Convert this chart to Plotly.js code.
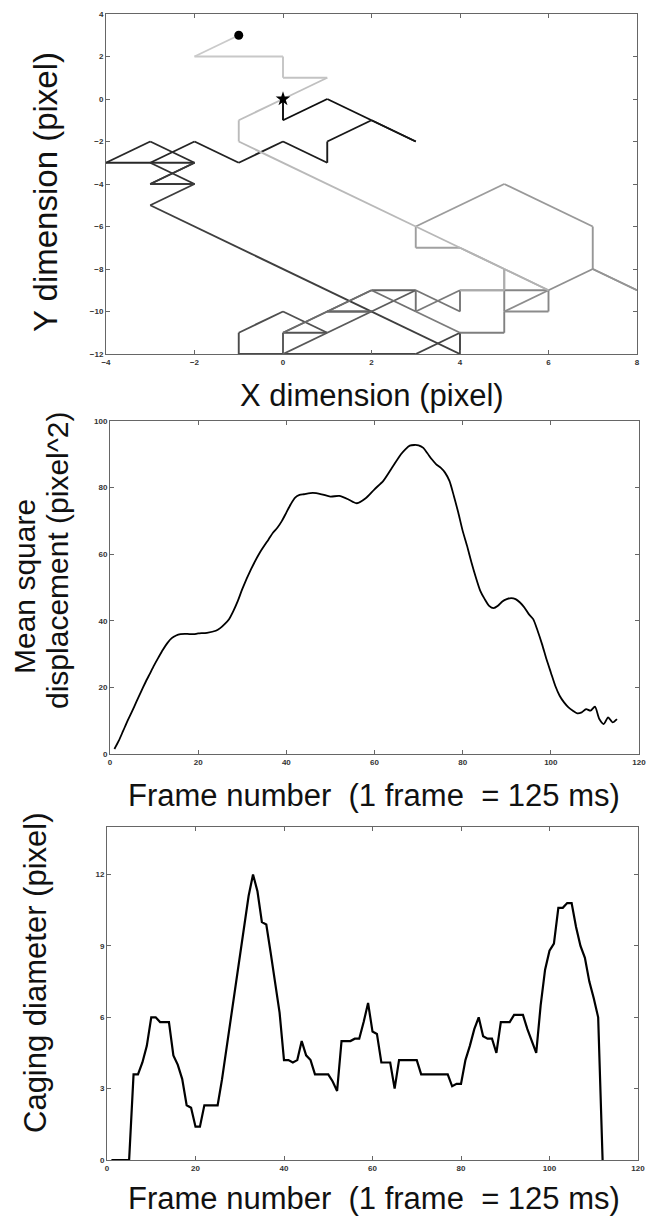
<!DOCTYPE html>
<html>
<head>
<meta charset="utf-8">
<script src="https://cdn.plot.ly/plotly-3.0.1.min.js"></script>
<style>
  html, body { margin: 0; padding: 0; background: #ffffff; }
  #chart { width: 647px; height: 1220px; }
</style>
</head>
<body>
<div id="chart"></div>
<script>
// ---------- Panel 1: particle trajectory (pixel coordinates, in time order) ----------
const trajX = [0, 0, 1, 2, 3, 2, 1, 1, 0, -1, -2, -3, -4, -3, -2, -3, -2, -3, -2, -3, -2, -3,
  4, 4, 3, 0, -1, -1, 0, 1, 0, 0, 1, 2, 3, 2, 1, 2, 1, 0, 1, 2, 3, 3, 4, 4, 3, 4, 5, 5, 5, 6,
  6, 5, 6, 7, 8, 7, 7, 5, 3, 3, 4, 5, 5, 4, 5, 5, 6, 5, 4, 3,
  -1, -1, 0, 1, 0, 0, -2, -1];
const trajY = [0, -1, 0, -1, -2, -1, -2, -3, -2, -3, -2, -3, -3, -2, -3, -3, -4, -4, -3, -4, -4, -5,
  -12, -11, -12, -12, -12, -11, -10, -11, -11, -12, -11, -10, -9, -9, -10, -10, -10, -11, -10, -9, -10, -9, -10, -9, -10, -11, -11, -10, -9, -9,
  -10, -10, -9, -8, -9, -8, -6, -4, -6, -7, -7, -8, -9, -9, -9, -8, -9, -8, -7, -6,
  -2, -1, 0, 1, 1, 2, 2, 3];
const xTicks1 = [-4, -2, 0, 2, 4, 6, 8];
const yTicks1 = [-12, -10, -8, -6, -4, -2, 0, 2, 4];

// ---------- Panel 2: mean square displacement ----------
const msdFrames = [1, 2, 3, 4, 5, 6, 7, 8, 9, 10, 11, 12, 13, 14, 15, 16, 17, 18, 19, 20,
  22, 24, 25, 26, 27, 28, 29, 30, 32, 34, 36, 37, 38, 39, 40, 41, 42, 43, 44, 46, 48, 50,
  52, 54, 55, 56, 58, 60, 62, 64, 66, 67, 68, 69, 70, 71, 72, 73, 74, 75, 76, 77, 78, 79,
  80, 81, 82, 83, 84, 85, 86, 87, 88, 89, 90, 91, 92, 93, 94, 95, 96, 97, 98, 99, 100,
  101, 102, 103, 104, 105, 106, 107, 108, 109, 110, 111, 112, 113, 114, 115];
const msdValues = [1.5, 4, 7, 10, 12.8, 15.7, 18.6, 21.4, 24, 26.6, 29, 31.3, 33.3, 34.8, 35.6, 36, 36.1, 36, 36, 36.2,
  36.4, 37, 37.8, 39, 40.5, 43, 46, 49.5, 55.5, 60.5, 64.5, 66.5, 68, 70, 72.5, 75, 77, 77.8, 78, 78.4, 78, 77.3,
  77.5, 76.5, 75.8, 75.3, 76.8, 79.5, 82, 86, 90, 91.5, 92.6, 92.8, 92.7, 92, 90.3, 88.5, 87, 86, 84.5, 82, 77.5, 72.5,
  67, 62.5, 57.5, 53, 49, 46.5, 44.5, 43.8, 44.5, 45.8, 46.5, 46.8, 46.5, 45.5, 44, 42, 40.5, 37, 33, 28.5, 24.5,
  20.5, 17.5, 15.5, 14, 13, 12.2, 12.5, 13.5, 13, 14.2, 10.5, 9, 11, 9.5, 10.5];
const frameTicks = [0, 20, 40, 60, 80, 100, 120];
const msdTicks = [0, 20, 40, 60, 80, 100];

// ---------- Panel 3: caging diameter ----------
const cageFrames = [1, 2, 3, 4, 5, 6, 7, 8, 9, 10, 11, 12, 13, 14, 15, 16, 17, 18, 19, 20,
  21, 22, 23, 24, 25, 26, 27, 28, 29, 30, 31, 32, 33, 34, 35, 36, 37, 38, 39, 40,
  41, 42, 43, 44, 45, 46, 47, 48, 49, 50, 51, 52, 53, 54, 55, 56, 57, 58, 59, 60,
  61, 62, 63, 64, 65, 66, 67, 68, 69, 70, 71, 72, 73, 74, 75, 76, 77, 78, 79, 80,
  81, 82, 83, 84, 85, 86, 87, 88, 89, 90, 91, 92, 93, 94, 95, 96, 97, 98, 99, 100,
  101, 102, 103, 104, 105, 106, 107, 108, 109, 110, 111, 112];
const cageValues = [0, 0, 0, 0, 0, 3.6, 3.6, 4.1, 4.8, 6.0, 6.0, 5.8, 5.8, 5.8, 4.4, 4.0, 3.4, 2.3, 2.2, 1.4,
  1.4, 2.3, 2.3, 2.3, 2.3, 3.4, 4.7, 6.0, 7.3, 8.5, 9.8, 11.1, 12.0, 11.3, 10.0, 9.9, 8.7, 7.5, 6.2, 4.2,
  4.2, 4.1, 4.2, 5.0, 4.4, 4.2, 3.6, 3.6, 3.6, 3.6, 3.3, 2.9, 5.0, 5.0, 5.0, 5.1, 5.1, 5.8, 6.6, 5.4,
  5.3, 4.1, 4.1, 4.1, 3.0, 4.2, 4.2, 4.2, 4.2, 4.2, 3.6, 3.6, 3.6, 3.6, 3.6, 3.6, 3.6, 3.1, 3.2, 3.2,
  4.2, 4.8, 5.5, 6.0, 5.2, 5.1, 5.1, 4.5, 5.8, 5.8, 5.8, 6.1, 6.1, 6.1, 5.5, 5.0, 4.5, 6.5, 8.0, 8.8,
  9.1, 10.6, 10.6, 10.8, 10.8, 9.8, 9.0, 8.5, 7.5, 6.8, 6.0, 0];
const cageTicks = [0, 3, 6, 9, 12];

// ---------- Text ----------
const xTitle1 = 'X dimension (pixel)';
const yTitle1 = 'Y dimension (pixel)';
const frameTitle = 'Frame number\u00A0\u00A0(1 frame\u00A0\u00A0= 125 ms)';
const msdTitleLine1 = 'Mean square';
const msdTitleLine2 = 'displacement (pixel^2)';
const cageTitle = 'Caging diameter (pixel)';

// ---------- Build traces ----------
const W = 647, H = 1220;
const traces = [];
const nSeg = trajX.length - 1;
for (let i = 0; i < nSeg; i++) {
  const t = i / (nSeg - 1);
  const g = Math.round(12 + t * 190);
  traces.push({
    type: 'scatter', mode: 'lines',
    x: [trajX[i], trajX[i + 1]], y: [trajY[i], trajY[i + 1]],
    line: { color: `rgb(${g},${g},${g})`, width: 1.9 },
    xaxis: 'x', yaxis: 'y', showlegend: false, hoverinfo: 'skip'
  });
}
traces.push({
  type: 'scatter', mode: 'markers',
  x: [trajX[0]], y: [trajY[0]],
  marker: { symbol: 'star', size: 11, color: '#000' },
  xaxis: 'x', yaxis: 'y', showlegend: false
});
traces.push({
  type: 'scatter', mode: 'markers',
  x: [trajX[trajX.length - 1]], y: [trajY[trajY.length - 1]],
  marker: { symbol: 'circle', size: 9, color: '#000' },
  xaxis: 'x', yaxis: 'y', showlegend: false
});
traces.push({
  type: 'scatter', mode: 'lines', x: msdFrames, y: msdValues,
  line: { color: '#000', width: 1.8, shape: 'spline', smoothing: 0.7 },
  xaxis: 'x2', yaxis: 'y2', showlegend: false
});
traces.push({
  type: 'scatter', mode: 'lines', x: cageFrames, y: cageValues,
  line: { color: '#000', width: 2.2 }, xaxis: 'x3', yaxis: 'y3', showlegend: false
});

// ---------- Layout ----------
const tickFont = { family: 'Liberation Sans, Arial, sans-serif', size: 8, color: '#333', weight: 'bold' };
function ax(extra) {
  return Object.assign({
    showline: true, mirror: 'ticks', linecolor: '#666', linewidth: 1,
    ticks: 'inside', ticklen: 4, tickwidth: 1, tickcolor: '#666',
    showgrid: false, zeroline: false, tickfont: tickFont, fixedrange: true
  }, extra);
}
const px = v => v / W;
const py = v => 1 - v / H;
const titleFont = s => ({ family: 'Liberation Sans, Arial, sans-serif', size: s, color: '#111' });

const layout = {
  width: W, height: H,
  margin: { l: 0, r: 0, t: 0, b: 0 },
  paper_bgcolor: '#fff', plot_bgcolor: '#fff',
  showlegend: false,
  xaxis: ax({ domain: [px(106), px(637)], range: [-4, 8], tickvals: xTicks1, anchor: 'y' }),
  yaxis: ax({ domain: [py(354), py(14)], range: [-12, 4], tickvals: yTicks1, anchor: 'x' }),
  xaxis2: ax({ domain: [px(110), px(639)], range: [0, 120], tickvals: frameTicks, anchor: 'y2' }),
  yaxis2: ax({ domain: [py(754), py(421)], range: [0, 100], tickvals: msdTicks, anchor: 'x2' }),
  xaxis3: ax({ domain: [px(107), px(638)], range: [0, 120], tickvals: frameTicks, anchor: 'y3' }),
  yaxis3: ax({ domain: [py(1160), py(827)], range: [0, 14], tickvals: cageTicks, anchor: 'x3' }),
  annotations: [
    { text: xTitle1, xref: 'paper', yref: 'paper', x: px(372), y: py(396), xanchor: 'center', yanchor: 'middle', showarrow: false, font: titleFont(31) },
    { text: yTitle1, xref: 'paper', yref: 'paper', x: px(45), y: py(192), xanchor: 'center', yanchor: 'middle', textangle: -90, showarrow: false, font: titleFont(33) },
    { text: frameTitle, xref: 'paper', yref: 'paper', x: px(374), y: py(795), xanchor: 'center', yanchor: 'middle', showarrow: false, font: titleFont(31) },
    { text: msdTitleLine1, xref: 'paper', yref: 'paper', x: px(24), y: py(587), xanchor: 'center', yanchor: 'middle', textangle: -90, showarrow: false, font: titleFont(30) },
    { text: msdTitleLine2, xref: 'paper', yref: 'paper', x: px(57), y: py(560), xanchor: 'center', yanchor: 'middle', textangle: -90, showarrow: false, font: titleFont(30) },
    { text: frameTitle, xref: 'paper', yref: 'paper', x: px(374), y: py(1198), xanchor: 'center', yanchor: 'middle', showarrow: false, font: titleFont(31) },
    { text: cageTitle, xref: 'paper', yref: 'paper', x: px(35), y: py(973), xanchor: 'center', yanchor: 'middle', textangle: -90, showarrow: false, font: titleFont(31) }
  ]
};

Plotly.newPlot('chart', traces, layout, { displayModeBar: false, staticPlot: true });
</script>
</body>
</html>
